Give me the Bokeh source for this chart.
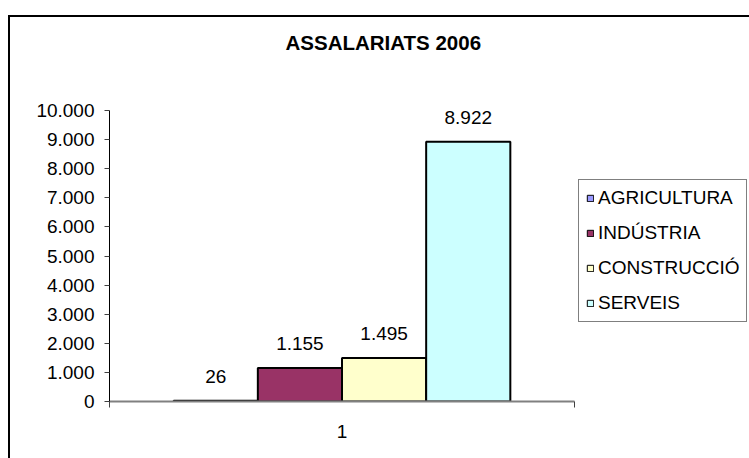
from bokeh.plotting import figure
from bokeh.models import FixedTicker, Legend, LegendItem, ColumnDataSource, Title
from bokeh.core.properties import value
from bokeh.embed import file_html
from bokeh.resources import INLINE

# ---- data ----
title_text = "ASSALARIATS 2006"
series = ["AGRICULTURA", "INDÚSTRIA", "CONSTRUCCIÓ", "SERVEIS"]
values = [26, 1155, 1495, 8922]
colors = ["#9999FF", "#993366", "#FFFFCC", "#CCFFFF"]
category_labels = ["1"]
y_ticks = [0, 1000, 2000, 3000, 4000, 5000, 6000, 7000, 8000, 9000, 10000]
y_tick_labels = ["0", "1.000", "2.000", "3.000", "4.000", "5.000", "6.000",
                 "7.000", "8.000", "9.000", "10.000"]


def fmt(v):
    return f"{v:,}".replace(",", ".")


FONT = "Liberation Sans"
bar_width = 0.181
n = len(series)
xs = [0.5 + (i - (n - 1) / 2) * bar_width for i in range(n)]

src = ColumnDataSource(dict(x=xs, top=values, color=colors, name=series,
                            label=[fmt(v) for v in values]))

p = figure(x_range=(0, 1), y_range=(0, 10000),
           frame_width=465, frame_height=291,
           min_border_left=99, min_border_right=175,
           min_border_top=93, min_border_bottom=57,
           output_backend="svg", toolbar_location=None)
p.styles = {"border-left": "2px solid black", "border-top": "2px solid black",
            "margin-top": "15px", "margin-left": "8px"}
p.outline_line_color = None
p.xgrid.visible = False
p.ygrid.visible = False

p.vbar(x="x", top="top", width=bar_width, bottom=0, source=src,
       fill_color="color", line_color="black", line_width=2)

p.text(x="x", y="top", text="label", source=src, y_offset=-24,
       text_align="center", text_baseline="middle",
       text_font=value(FONT), text_font_size="19px", text_color="black")

# legend proxies (single NaN point each, used only for the legend swatches)
items = []
for s, c in zip(series, colors):
    r = p.rect(x=[float("nan")], y=[float("nan")], width=1, height=1,
               fill_color=c, line_color="black", line_width=1)
    items.append(LegendItem(label=s, renderers=[r]))
legend = Legend(items=items, location=(4, 79), margin=0, padding=7,
                spacing=13, glyph_width=8, glyph_height=8, label_height=20,
                label_standoff=4, label_text_font=FONT,
                label_text_font_size="19px", label_text_color="black",
                border_line_color="black",
                border_line_width=1, background_fill_alpha=1)
p.add_layout(legend, "right")

# title: a blank spacer slot next to the frame, then the real title above it
p.title.text = ""
spacer = Title(text=" ", text_font_size="1px", standoff=54)
p.add_layout(spacer, "above")
main_title = Title(text=title_text, align="left", offset=176,
                   vertical_align="bottom", standoff=0,
                   text_font=FONT, text_font_size="20.5px",
                   text_font_style="bold", text_color="black")
p.add_layout(main_title, "above")

# y axis
ya = p.yaxis[0]
ya.ticker = FixedTicker(ticks=y_ticks, minor_ticks=[])
ya.major_label_overrides = {t: l for t, l in zip(y_ticks, y_tick_labels)}
ya.axis_line_color = "black"
ya.major_tick_line_color = "#404040"
ya.major_tick_out = 5
ya.major_tick_in = 0
ya.major_label_standoff = 10
ya.major_label_text_font = FONT
ya.major_label_text_font_size = "19px"
ya.major_label_text_color = "black"

# x axis
xa = p.xaxis[0]
xa.ticker = FixedTicker(ticks=[0.5], minor_ticks=[0, 1])
xa.major_label_overrides = {0.5: category_labels[0]}
xa.axis_line_color = "#808080"
xa.axis_line_width = 2
xa.major_tick_line_color = None
xa.major_tick_out = 0
xa.major_tick_in = 0
xa.minor_tick_line_color = "#404040"
xa.minor_tick_out = 6
xa.minor_tick_in = 0
xa.major_label_standoff = 17
xa.major_label_text_font = FONT
xa.major_label_text_font_size = "19px"
xa.major_label_text_color = "black"

open("out.html", "w").write(file_html(p, INLINE))
